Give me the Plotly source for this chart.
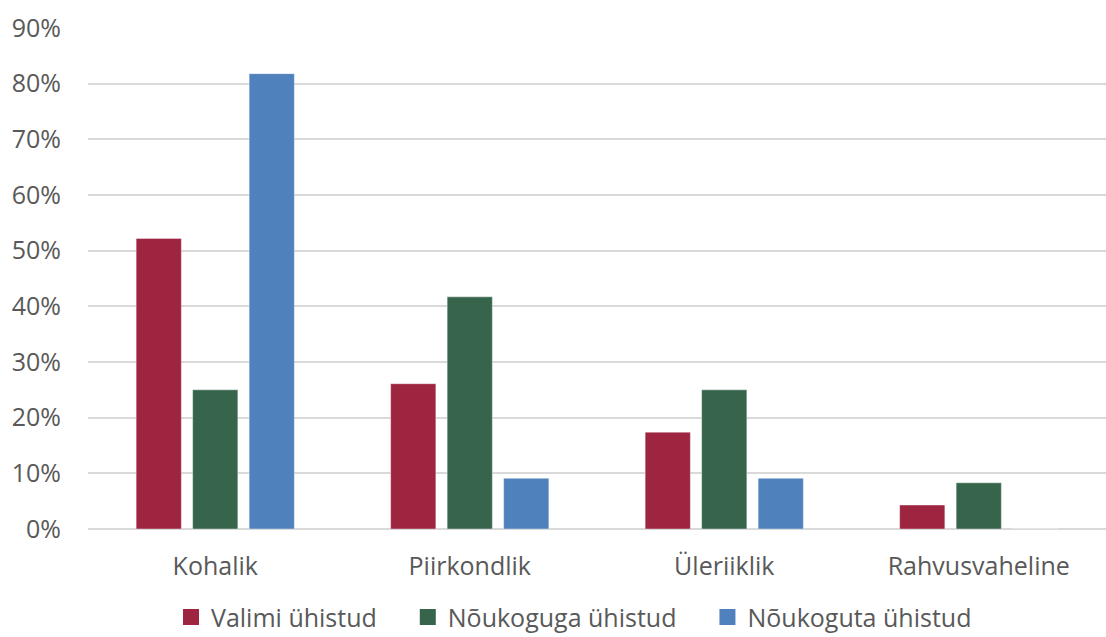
import plotly.graph_objects as go

categories = ["Kohalik", "Piirkondlik", "Üleriiklik", "Rahvusvaheline"]
series_names = ["Valimi ühistud", "Nõukoguga ühistud", "Nõukoguta ühistud"]
valimi = [0.522, 0.261, 0.174, 0.043]
noukoguga = [0.25, 0.417, 0.25, 0.083]
noukoguta = [0.818, 0.091, 0.091, 0.0]
colors = ["#9E2540", "#37654B", "#4F81BD"]

fig = go.Figure()
for name, vals, col in zip(series_names, [valimi, noukoguga, noukoguta], colors):
    fig.add_trace(go.Bar(
        x=categories, y=vals, name=name, showlegend=False, legendgroup=name,
        marker=dict(color=col, line=dict(color="rgba(255,255,255,0.5)", width=0.8)),
    ))
# legend entries with larger square symbols
pad = "\u00a0" * 4
for i, (name, col) in enumerate(zip(series_names, colors)):
    fig.add_trace(go.Scatter(
        x=[None], y=[None], mode="markers",
        name=name + (pad if i < len(series_names) - 1 else ""), legendgroup=name,
        marker=dict(symbol="square", size=17, color=col),
    ))

font_family = "Open Sans, Lato, sans-serif"
fig.update_layout(
    width=1106, height=637,
    paper_bgcolor="white", plot_bgcolor="white",
    margin=dict(l=88, r=0, t=28, b=108, autoexpand=False),
    barmode="group", bargap=0.334, bargroupgap=0.2,
    font=dict(family=font_family, size=25, color="#595959"),
    showlegend=True,
    legend=dict(orientation="h", x=0.519, xanchor="center", xref="container",
                y=-0.176, yanchor="middle", yref="paper",
                font=dict(size=25, color="#595959"), itemsizing="trace",
                traceorder="normal", itemwidth=30),
    xaxis=dict(showgrid=False, showline=False, ticks="", ticklabelstandoff=20,
               automargin=False, tickfont=dict(size=25, color="#595959")),
    yaxis=dict(range=[0, 0.9], dtick=0.1, tickformat=".0%", showgrid=True,
               gridcolor="#D9D9D9", gridwidth=1.5, zeroline=True, zerolinecolor="#D9D9D9",
               zerolinewidth=1.5, showline=False, ticks="", ticklabelstandoff=26,
               automargin=False, tickfont=dict(size=25, color="#595959")),
)

fig.write_html("out.html", config={"displayModeBar": False},
               post_script="document.body.style.margin='0';document.body.style.overflow='hidden';")
